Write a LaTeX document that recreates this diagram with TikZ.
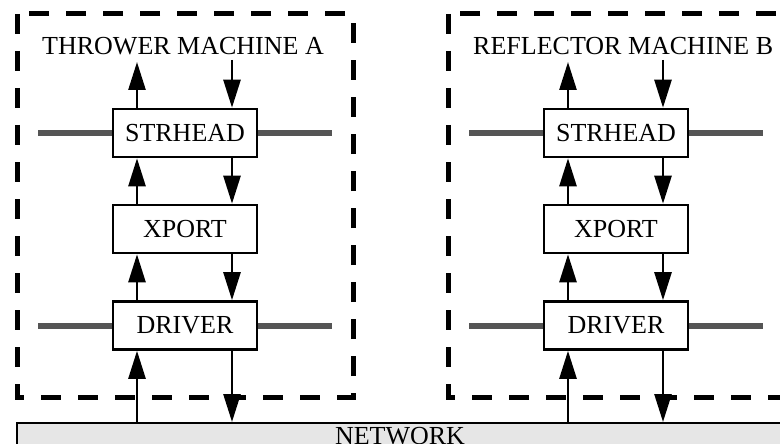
\documentclass[tikz,border=0pt]{standalone}
\usepackage{fontspec}
\setmainfont{Liberation Serif}
\usetikzlibrary{arrows.meta}
\definecolor{bus}{HTML}{555555}
\definecolor{netfill}{HTML}{E6E6E6}
\tikzset{
  layer/.style={draw=black, line width=2.6pt, fill=white, minimum width=144pt,
    minimum height=48pt, inner sep=0pt, font=\fontsize{26}{28}\selectfont},
  machine/.style={draw=black, line width=5pt, dash pattern=on 20pt off 17pt},
  busline/.style={draw=bus, line width=6pt},
  flow/.style={line width=2.6pt, -{Triangle[length=28pt,width=17pt]}},
  title/.style={anchor=base west, inner sep=0pt, font=\fontsize{26}{28}\selectfont},
}
\begin{document}
\begin{tikzpicture}[x=1pt, y=-1pt]
\useasboundingbox (0,0) rectangle (780,444);
\begin{scope}
\clip (0,0) rectangle (780,444);
% network underneath both machines
\node[draw=black, line width=2pt, fill=netfill, minimum width=800pt, minimum height=60pt,
  inner sep=0pt, anchor=north west] (net) at (16,422) {};
\node[anchor=base, inner sep=0pt, font=\fontsize{26}{28}\selectfont] (netlabel) at (400,444) {NETWORK};

\foreach \dx/\name/\label in {0/a/THROWER MACHINE A, 431/b/REFLECTOR MACHINE B}{
  \begin{scope}[xshift=\dx]
    % machine boundary
    \draw[machine] (17,14) rectangle (353,397);
    \node[title] (title\name) at (42,55) {\label};
    % horizontal buses behind the layers
    \draw[busline] (38,133) -- (332,133);
    \draw[busline] (38,325.5) -- (332,325.5);
    % protocol layers
    \node[layer] (str\name) at (185,133) {STRHEAD};
    \node[layer] (xp\name) at (185,229) {XPORT};
    \node[layer] (drv\name) at (185,325.5) {DRIVER};
    \coordinate (upt\name) at (137,62);
    \coordinate (dnt\name) at (232,60);
    % upward flow
    \draw[flow] (str\name.north -| upt\name) -- (upt\name);
    \draw[flow] (xp\name.north -| upt\name) -- (str\name.south -| upt\name);
    \draw[flow] (drv\name.north -| upt\name) -- (xp\name.south -| upt\name);
    \draw[flow] (net.north -| upt\name) -- (drv\name.south -| upt\name);
    % downward flow
    \draw[flow] (dnt\name) -- (str\name.north -| dnt\name);
    \draw[flow] (str\name.south -| dnt\name) -- (xp\name.north -| dnt\name);
    \draw[flow] (xp\name.south -| dnt\name) -- (drv\name.north -| dnt\name);
    \draw[flow] (drv\name.south -| dnt\name) -- (net.north -| dnt\name);
  \end{scope}
}
\end{scope}
\end{tikzpicture}
\end{document}
